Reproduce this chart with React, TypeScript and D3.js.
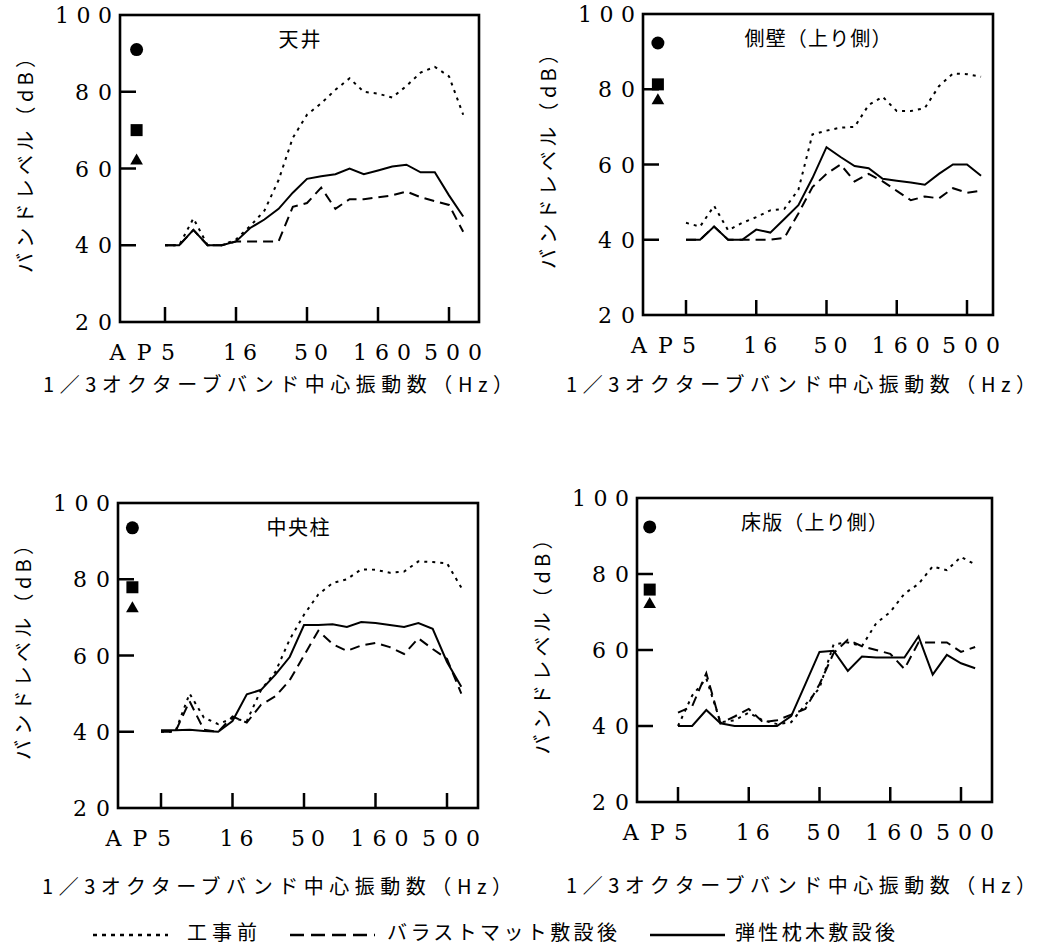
import React from 'react'
import * as d3 from 'd3'

// 1/3 octave band centre frequencies (Hz)
const bands = ['5', '6.3', '8', '10', '12.5', '16', '20', '25', '31.5', '40', '50', '63', '80', '100', '125', '160', '200', '250', '315', '400', '500', '630']
const xTickLabels = ['5', '16', '50', '160', '500']
const yTicks = [20, 40, 60, 80, 100]
const seriesNames = ['工事前', 'バラストマット敷設後', '弾性枕木敷設後']
const panelTitles = ['天井', '側壁（上り側）', '中央柱', '床版（上り側）']

// 天井
const ceilingBefore = [40, 40, 47, 40, 40, 41.5, 45, 49, 57, 68, 74, 77, 80.5, 83.5, 80, 79.5, 78.5, 81.5, 85, 86.5, 84, 74]
const ceilingBallast = [40, 40, 44, 40, 40, 41, 41, 41, 41, 50, 51, 55, 49.5, 52, 52, 52.5, 53, 54, 52.5, 51.5, 50.5, 43.5]
const ceilingSleeper = [40, 40, 44, 40, 40, 41, 44.5, 46.7, 49.5, 53.7, 57.3, 58, 58.5, 60, 58.5, 59.5, 60.5, 61, 59, 59, 53, 47.5]
const ceilingAP = [91, 70, 62]

// 側壁（上り側）
const wallBefore = [44.5, 43.5, 49, 42.5, 44.5, 46, 47.8, 48.2, 53.3, 68, 69, 69.8, 70, 75.8, 78, 74.2, 74.2, 75, 80.8, 84.2, 84, 83.3]
const wallBallast = [40, 40, 43.5, 40, 40, 40, 40, 40.5, 47, 54, 57.5, 60, 55.5, 57.5, 55.5, 53, 50.5, 51.5, 51, 53.7, 52.5, 53]
const wallSleeper = [40, 40, 43.5, 40, 40, 42.7, 41.9, 45.5, 49.2, 56.4, 64.6, 62, 59.6, 59, 56.2, 55.7, 55.2, 54.6, 57.5, 60, 60, 57]
const wallAP = [92.3, 81.3, 77]

// 中央柱
const columnBefore = [40, 40, 50, 43.7, 42, 43.5, 42.8, 51, 55.7, 64.2, 70.7, 76, 79, 80, 82.6, 82.5, 81.7, 82, 84.7, 84.5, 84.2, 77.8]
const columnBallast = [40, 40, 48, 40.5, 40, 44, 42.4, 47.1, 49.3, 53.5, 60, 66.5, 63, 61.2, 62.6, 63.3, 62.2, 60.4, 64.5, 61.7, 59.1, 50]
const columnSleeper = [40.4, 40.4, 40.5, 40.2, 40, 42.8, 49.8, 51, 55, 59.6, 68, 68, 68.2, 67.5, 68.8, 68.5, 68, 67.5, 68.5, 67, 58.3, 51.8]
const columnAP = [93.5, 77.9, 72.3]

// 床版（上り側）
const slabBefore = [40, 48, 52.5, 41, 41.5, 43.5, 41.5, 40.5, 41, 45.6, 50, 61.5, 62, 61, 67, 70, 74.8, 77.4, 82, 81, 84.5, 82.5]
const slabBallast = [43.5, 45.2, 53.9, 40.7, 42.5, 44.5, 41, 41.5, 43, 44.5, 51, 59.2, 62.7, 61, 60, 59, 55, 62, 62, 62, 59.5, 60.8]
const slabSleeper = [40, 40, 44.2, 40.7, 40, 40, 40, 40, 42.6, 51, 59.5, 59.8, 54.5, 58.3, 58, 58, 58, 63.6, 53.5, 58.7, 56.5, 55.2]
const slabAP = [92.4, 75.9, 72]

const panelSeries = [
  [ceilingBefore, ceilingBallast, ceilingSleeper],
  [wallBefore, wallBallast, wallSleeper],
  [columnBefore, columnBallast, columnSleeper],
  [slabBefore, slabBallast, slabSleeper],
]
const panelAP = [ceilingAP, wallAP, columnAP, slabAP]

// layout of each axes box (scanned figure is slightly uneven)
const boxes = [
  { left: 120, top: 15, right: 479, bottom: 322, x5: 165, x500: 449, titleX: 278, titleY: 385 },
  { left: 643, top: 14, right: 993, bottom: 315, x5: 686, x500: 967, titleX: 801, titleY: 385 },
  { left: 118, top: 503, right: 478, bottom: 808, x5: 161, x500: 447, titleX: 277, titleY: 887 },
  { left: 637, top: 498, right: 992, bottom: 802, x5: 678, x500: 961, titleX: 801, titleY: 886 },
]

const dashes = ['3 5', '10 6', null]
const serif = '"DejaVu Serif", "Liberation Serif", serif'
const jp = '"Noto Sans CJK JP", "Noto Sans", sans-serif'

function Panel({ idx }: { idx: number }) {
  const b = boxes[idx]
  const x = d3.scaleLinear().domain([0, 20]).range([b.x5, b.x500])
  const y = d3.scaleLinear().domain([20, 100]).range([b.bottom, b.top])
  const line = d3.line<number>().x((_, i) => x(i)).y(d => y(d))
  const apX = x(-2)
  const tickIdx = xTickLabels.map(l => bands.indexOf(l))
  const ap = panelAP[idx]

  return (
    <g>
      {/* inner ticks */}
      {[40, 60, 80].map(v => (
        <line key={'yt' + v} x1={b.left} x2={b.left + 16} y1={y(v)} y2={y(v)} stroke="#000" strokeWidth={2.5} />
      ))}
      {tickIdx.map(i => (
        <line key={'xt' + i} x1={x(i)} x2={x(i)} y1={b.bottom} y2={b.bottom - 15} stroke="#000" strokeWidth={2.5} />
      ))}
      <rect x={b.left} y={b.top} width={b.right - b.left} height={b.bottom - b.top} fill="none" stroke="#000" strokeWidth={2.6} />

      {/* y tick labels */}
      {yTicks.map(v => {
        const s = String(v)
        return (
          <text key={'yl' + v} x={b.left - 8} y={y(v) + 8} textAnchor="end" fontFamily={serif} fontSize={22}
            textLength={s.length * 20 - 3} lengthAdjust="spacing">{s}</text>
        )
      })}
      {/* x tick labels */}
      <text x={apX - 6} y={b.bottom + 38} textAnchor="middle" fontFamily={serif} fontSize={22}
        textLength={42} lengthAdjust="spacing">AP</text>
      {xTickLabels.map((l, k) => (
        <text key={'xl' + l} x={x(tickIdx[k]) + (l.length > 1 ? 4 : 3)} y={b.bottom + 38} textAnchor="middle"
          fontFamily={serif} fontSize={22}
          {...(l.length > 1 ? { textLength: l.length === 2 ? 34 : 58, lengthAdjust: 'spacing' } : {})}>{l}</text>
      ))}

      {/* titles */}
      <text x={(b.left + b.right) / 2} y={b.top + 32} textAnchor="middle" fontFamily={jp} fontSize={20}
        textLength={panelTitles[idx].length * 21} lengthAdjust="spacing">{panelTitles[idx]}</text>
      <text transform={`translate(${b.left - 96},${(b.top + b.bottom) / 2 - 8}) rotate(-90)`} textAnchor="middle"
        dominantBaseline="central" fontFamily={jp} fontSize={20} textLength={225} lengthAdjust="spacing">バンドレベル（dB）</text>
      <text x={b.titleX} y={b.titleY + 7} textAnchor="middle" fontFamily={jp} fontSize={20}
        textLength={470} lengthAdjust="spacing">1／3オクターブバンド中心振動数（Hz）</text>

      {/* series */}
      {panelSeries[idx].map((vals, s) => (
        <path key={'s' + s} d={line(vals) ?? ''} fill="none" stroke="#000" strokeWidth={2}
          strokeDasharray={dashes[s] ?? undefined} />
      ))}

      {/* AP (overall) values */}
      <circle cx={apX} cy={y(ap[0])} r={6.5} fill="#000" />
      <rect x={apX - 6} y={y(ap[1]) - 6} width={12} height={12} fill="#000" />
      <path d={d3.symbol(d3.symbolTriangle, 70)() ?? ''} transform={`translate(${apX},${y(ap[2])})`} fill="#000" />
    </g>
  )
}

export default function App() {
  const legendY = 935
  const legend = [
    { x1: 93, x2: 168, tx: 187, tl: 70 },
    { x1: 290, x2: 375, tx: 387, tl: 230 },
    { x1: 650, x2: 725, tx: 735, tl: 160 },
  ]
  return (
    <svg width={1046} height={949} style={{ position: 'absolute', left: 0, top: 0, background: '#fff' }}>
      {boxes.map((_, i) => <Panel key={i} idx={i} />)}
      {seriesNames.map((n, s) => (
        <g key={n}>
          <line x1={legend[s].x1} x2={legend[s].x2} y1={legendY} y2={legendY} stroke="#000" strokeWidth={2.4}
            strokeDasharray={s === 0 ? '4 5' : s === 1 ? '14 7' : undefined} />
          <text x={legend[s].tx} y={legendY + 5} fontFamily={jp} fontSize={20} textLength={legend[s].tl}
            lengthAdjust="spacing">{n}</text>
        </g>
      ))}
    </svg>
  )
}
